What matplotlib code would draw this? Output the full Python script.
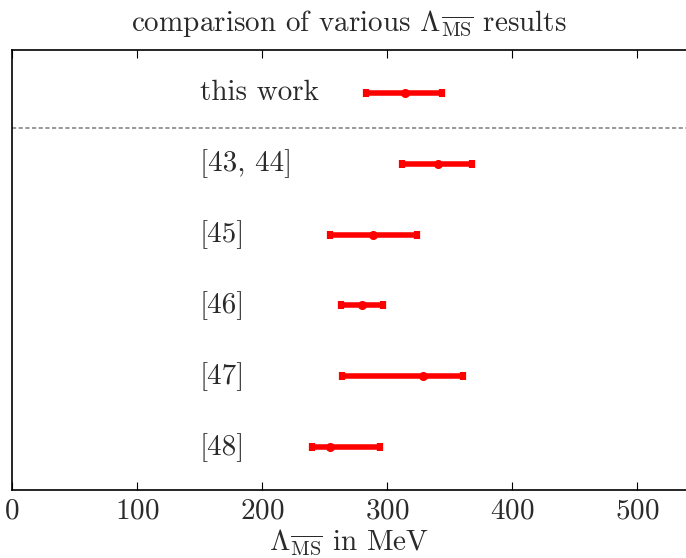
import matplotlib
matplotlib.use("Agg")
import matplotlib.pyplot as plt

labels = ["this work", "[43, 44]", "[45]", "[46]", "[47]", "[48]"]
centers = [314, 341, 289, 280, 329, 254]
lower = [283, 312, 254, 263, 264, 240]
upper = [344, 368, 324, 297, 361, 294]

plt.rcParams["font.family"] = "cmr10"
plt.rcParams["mathtext.fontset"] = "cm"
plt.rcParams["axes.formatter.use_mathtext"] = True

fig = plt.figure(figsize=(6.86, 5.58), dpi=100)
ax = fig.add_axes([12/686, 1-490/558, 1-12/686, (490-50)/558])

n = len(labels)
ys = [n - 1 - i for i in range(n)]
xerr = [[c - l for c, l in zip(centers, lower)], [u - c for c, u in zip(centers, upper)]]
ax.errorbar(centers, ys, xerr=xerr, fmt="o", color="#ff0000", ms=5.5,
            elinewidth=4, capsize=3.0, capthick=4.5, ecolor="#ff0000", zorder=3)

for lab, y in zip(labels, ys):
    ax.text(150, y, lab, ha="left", va="center", fontsize=21, color="#2a2a2a")

ax.axhline(n - 1.5, color="#888888", linestyle=(0, (2.5, 1.5)), lw=1.2)

ax.set_xlim(0, 539)
ax.set_ylim(-0.6, n - 1 + 0.6)
ax.set_xticks([0, 100, 200, 300, 400, 500])
ax.set_yticks([])
ax.tick_params(axis="x", direction="in", top=True, bottom=True, length=6,
               width=0.8, labelsize=21, labelcolor="#2a2a2a", pad=6)
ax.spines["right"].set_visible(False)
for s in ["left", "top", "bottom"]:
    ax.spines[s].set_linewidth(1.2)

ax.set_xlabel(r"$\Lambda_{\overline{\rm MS}}$ in MeV", fontsize=21, color="#2a2a2a", labelpad=2)
ax.set_title(r"comparison of various $\Lambda_{\overline{\rm MS}}$ results", fontsize=21,
             color="#2a2a2a", pad=14)

fig.savefig("out.png", dpi=100)
